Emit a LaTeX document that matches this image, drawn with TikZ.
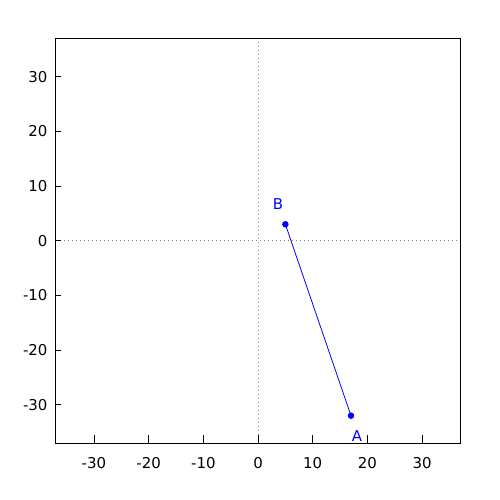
\documentclass[tikz,border=0pt]{standalone}
\usepackage{fontspec}
\setmainfont{DejaVu Sans}
\usepackage{xcolor}
\usepackage{tikz}

\begin{document}
\begin{tikzpicture}[x=5.47bp, y=5.47bp,
        lbl/.style={font=\fontsize{15}{17}\selectfont, inner sep=0pt},
        pt/.style={circle, fill=blue, inner sep=0pt, minimum size=6.5bp},
        zeroaxis/.style={gray, line width=0.6bp, dash pattern=on 0.8bp off 3.2bp}]
        \useasboundingbox (-47.17,-47.4) rectangle (44.24,44.0);

        % zero axes
        \draw[zeroaxis] (-37,0) -- (37,0);
        \draw[zeroaxis] (0,-37) -- (0,37);

        % frame and tics
        \draw[line width=0.8bp] (-37,-37) rectangle (37,37);
        \foreach \v in {-30,-20,...,30} {
            \draw[line width=0.8bp] (\v,-37) -- ++(0,8bp);
            \node[lbl] at ([yshift=-20bp]\v,-37) {\v};
            \draw[line width=0.8bp] (-37,\v) -- ++(5bp,0);
            \node[lbl, anchor=east] at ([xshift=-8bp]-37,\v) {\v};
        }

        % points
        \node[pt] (A) at (17,-32) {};
        \node[lbl, blue] (labA) at (18.1,-35.7) {A};
        \node[pt] (B) at (5,3) {};
        \node[lbl, blue] (labB) at (3.66,6.7) {B};
        \draw[blue, line width=0.8bp] (A.center) -- (B.center);
\end{tikzpicture}
\end{document}
